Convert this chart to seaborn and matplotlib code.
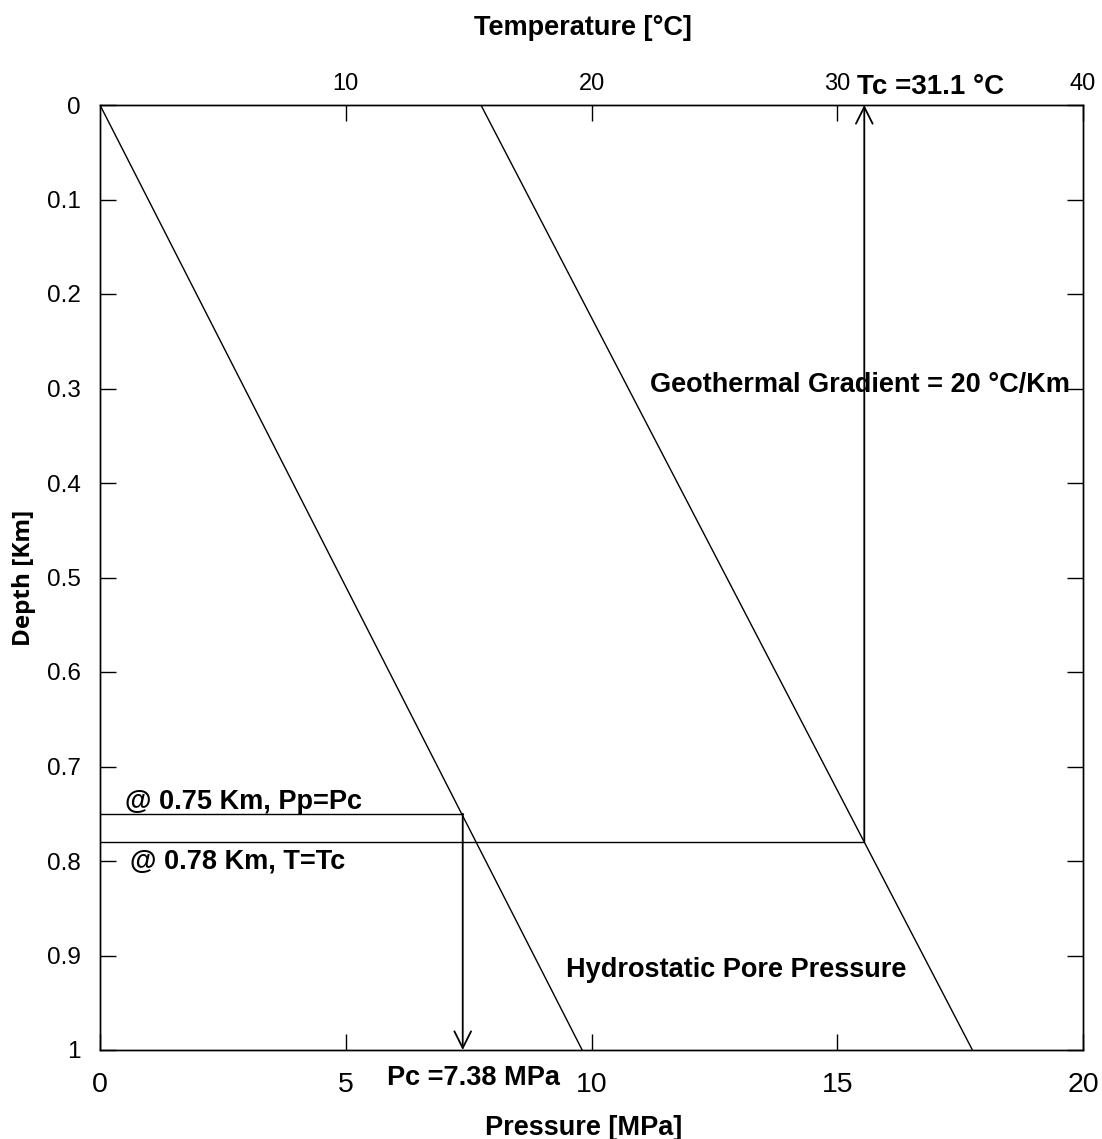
import matplotlib
matplotlib.use("Agg")
import matplotlib.pyplot as plt
import seaborn as sns
import pandas as pd

# Profile data
depth_km = [0.0, 1.0]
pore_pressure_mpa = [0.0, 9.81]      # hydrostatic, ~9.81 MPa/km
temperature_c = [15.5, 35.5]         # surface 15.5 °C, 20 °C/km

# Critical point of CO2 and the depths where it is reached
pc_mpa = 7.38
tc_c = 31.1
depth_pc = 0.75
depth_tc = 0.78

pressure_ticks = [0, 5, 10, 15, 20]
temperature_ticks = [10, 20, 30, 40]
depth_ticks = [0, 0.1, 0.2, 0.3, 0.4, 0.5, 0.6, 0.7, 0.8, 0.9, 1.0]
depth_labels = ["0", "0.1", "0.2", "0.3", "0.4", "0.5", "0.6", "0.7", "0.8", "0.9", "1"]

sns.set_theme(style="white")
plt.rcParams["font.family"] = ["Liberation Sans", "DejaVu Sans"]
plt.rcParams.update({"text.color": "black", "axes.labelcolor": "black",
                     "xtick.color": "black", "ytick.color": "black"})

fig = plt.figure(figsize=(11.02, 11.39), dpi=100)
ax = fig.add_axes([100 / 1102, 1 - 1050 / 1139, 983 / 1102, 945 / 1139])
axt = ax.twiny()

df_p = pd.DataFrame({"depth": depth_km, "pressure": pore_pressure_mpa})
df_t = pd.DataFrame({"depth": depth_km, "temperature": temperature_c})

sns.lineplot(data=df_p, x="pressure", y="depth", ax=ax, color="black",
             lw=1.0, sort=False, estimator=None)
sns.lineplot(data=df_t, x="temperature", y="depth", ax=axt, color="black",
             lw=1.0, sort=False, estimator=None)

ax.set_xlim(0, 20)
axt.set_xlim(0, 40)
ax.set_ylim(1, 0)

ax.set_xticks(pressure_ticks)
ax.set_xticklabels([str(v) for v in pressure_ticks])
axt.set_xticks(temperature_ticks)
axt.set_xticklabels([str(v) for v in temperature_ticks])
ax.set_yticks(depth_ticks)
ax.set_yticklabels(depth_labels)

ax.tick_params(axis="x", direction="in", length=11.5, width=1, colors="black",
               labelsize=20.5, pad=16, bottom=True, top=False)
ax.tick_params(axis="y", direction="in", length=11.5, width=1, colors="black",
               labelsize=17.5, pad=14, left=True, right=True)
axt.tick_params(axis="x", direction="in", length=11.5, width=1, colors="black",
                labelsize=17, pad=7.5, top=True, bottom=False)

for a in (ax, axt):
    for s in a.spines.values():
        s.set_color("black")
        s.set_linewidth(1.0)

ax.set_xlabel("Pressure [MPa]", fontsize=19.5, fontweight="bold", color="black")
axt.set_xlabel("Temperature [°C]", fontsize=19.5, fontweight="bold", color="black")
ax.xaxis.set_label_coords(0.4915, -0.0686)
axt.xaxis.set_label_coords(0.4915, 1.074)
ax.set_ylabel("Depth [Km]", fontsize=17.5, fontweight="bold", labelpad=8,
              family=["Open Sans", "DejaVu Sans"], color="black")

# Guide lines at the depth where pressure reaches Pc
ax.plot([0, pc_mpa], [depth_pc, depth_pc], color="black", lw=1.0)
ax.annotate("", xy=(pc_mpa, 1.0), xytext=(pc_mpa, depth_pc),
            arrowprops=dict(arrowstyle="->", color="black", lw=1.3,
                            mutation_scale=30, shrinkA=0, shrinkB=0))

# Guide lines at the depth where temperature reaches Tc
axt.plot([0, tc_c], [depth_tc, depth_tc], color="black", lw=1.0)
axt.annotate("", xy=(tc_c, 0.0), xytext=(tc_c, depth_tc),
             arrowprops=dict(arrowstyle="->", color="black", lw=1.3,
                             mutation_scale=30, shrinkA=0, shrinkB=0))

bold = dict(fontweight="bold", color="black", va="center", ha="left")
axt.text(30.8, -0.019, f"Tc ={tc_c} °C", fontsize=20, **bold)
ax.text(11.2, 0.296, "Geothermal Gradient = 20 °C/Km", fontsize=19.5, **bold)
ax.text(0.51, 0.7376, f"@ {depth_pc} Km, Pp=Pc", fontsize=19.5, **bold)
ax.text(0.61, 0.801, f"@ {depth_tc} Km, T=Tc", fontsize=19.5, **bold)
ax.text(9.48, 0.915, "Hydrostatic Pore Pressure", fontsize=19.5, **bold)
ax.text(5.84, 1.0296, f"Pc ={pc_mpa} MPa", fontsize=19.5, clip_on=False, **bold)

fig.savefig("out.png", dpi=100)
